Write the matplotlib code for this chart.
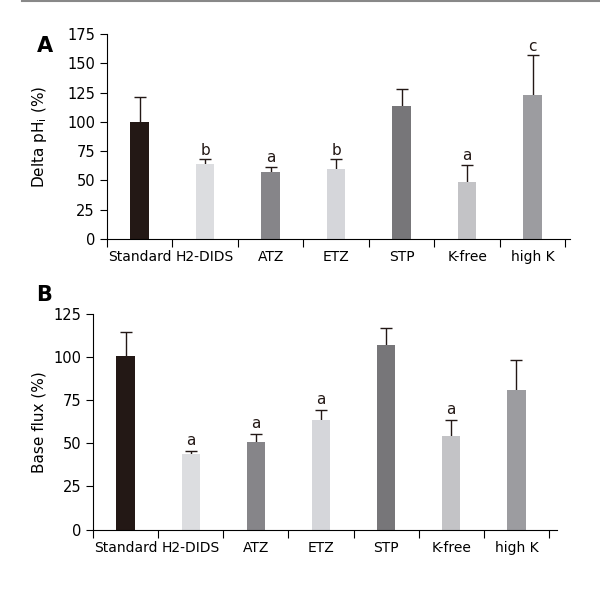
import matplotlib.pyplot as plt
import numpy as np
from matplotlib.lines import Line2D

groups = ['Standard', 'H2-DIDS', 'ATZ', 'ETZ', 'STP', 'K-free', 'high K']
colors = ['#231815', '#dcdde0', '#868589', '#d5d6da', '#777679', '#c3c3c6', '#9c9ca0']

# panel A: delta pHi
delta_ph = [100, 64, 57, 60, 114, 48.5, 123]
delta_ph_err = [21, 4, 4.5, 8, 14.5, 15, 34]
letters_a = ['', 'b', 'a', 'b', '', 'a', 'c']

# panel B: base flux
base_flux = [100.5, 43.5, 51, 63.5, 107, 54, 81]
base_flux_err = [14, 2, 4.5, 6, 10, 9.5, 17]
letters_b = ['', 'a', 'a', 'a', '', 'a', '']

plt.rcParams['font.family'] = 'DejaVu Sans'
fig = plt.figure(figsize=(6, 5.91), dpi=100)

def panel(ax, vals, errs, letters, ymax, ystep, ylabel, xright):
    x = np.arange(len(groups))
    ax.bar(x, vals, width=0.28, color=colors, zorder=2)
    eb = ax.errorbar(x, vals, yerr=[np.zeros(len(vals)), errs], fmt='none',
                     ecolor='#231815', elinewidth=1, capsize=4, capthick=1, zorder=1)
    # only the upper cap is drawn in the original
    eb[1][0].set_visible(False)
    for xi, v, e, l in zip(x, vals, errs, letters):
        if l:
            ax.text(xi, v + e + 1.5, l, ha='center', va='bottom', fontsize=11, color='#231815')
    ax.set_xlim(-0.5, xright)
    ax.set_ylim(0, ymax)
    ax.set_yticks(np.arange(0, ymax + 1, ystep))
    ax.set_xticks(np.arange(len(groups) + 1) - 0.5)
    ax.set_xticklabels([])
    ax.set_xticks(x, minor=True)
    ax.set_xticklabels(groups, minor=True)
    ax.tick_params(axis='x', which='minor', length=0, pad=8, labelsize=10)
    ax.tick_params(axis='x', which='major', length=6, direction='out')
    ax.tick_params(axis='y', length=5, labelsize=10.5)
    ax.spines['top'].set_visible(False)
    ax.spines['right'].set_visible(False)
    ax.set_ylabel(ylabel, fontsize=11)

ax1 = fig.add_axes([0.178, 0.596, 0.772, 0.346])
panel(ax1, delta_ph, delta_ph_err, letters_a, 175, 25, 'Delta pH$_\\mathregular{i}$ (%)', 6.57)
ax1.yaxis.set_label_coords(-0.125, 0.5)

ax2 = fig.add_axes([0.155, 0.104, 0.773, 0.365])
panel(ax2, base_flux, base_flux_err, letters_b, 125, 25, 'Base flux (%)', 6.62)
ax2.yaxis.set_label_coords(-0.1, 0.5)

fig.text(0.062, 0.912, 'A', fontsize=15, fontweight='bold')
fig.text(0.06, 0.49, 'B', fontsize=15, fontweight='bold')
fig.add_artist(Line2D([0.037, 1.0], [0.999, 0.999], color='#888888', lw=1.5))

fig.savefig('out.png', dpi=100)
